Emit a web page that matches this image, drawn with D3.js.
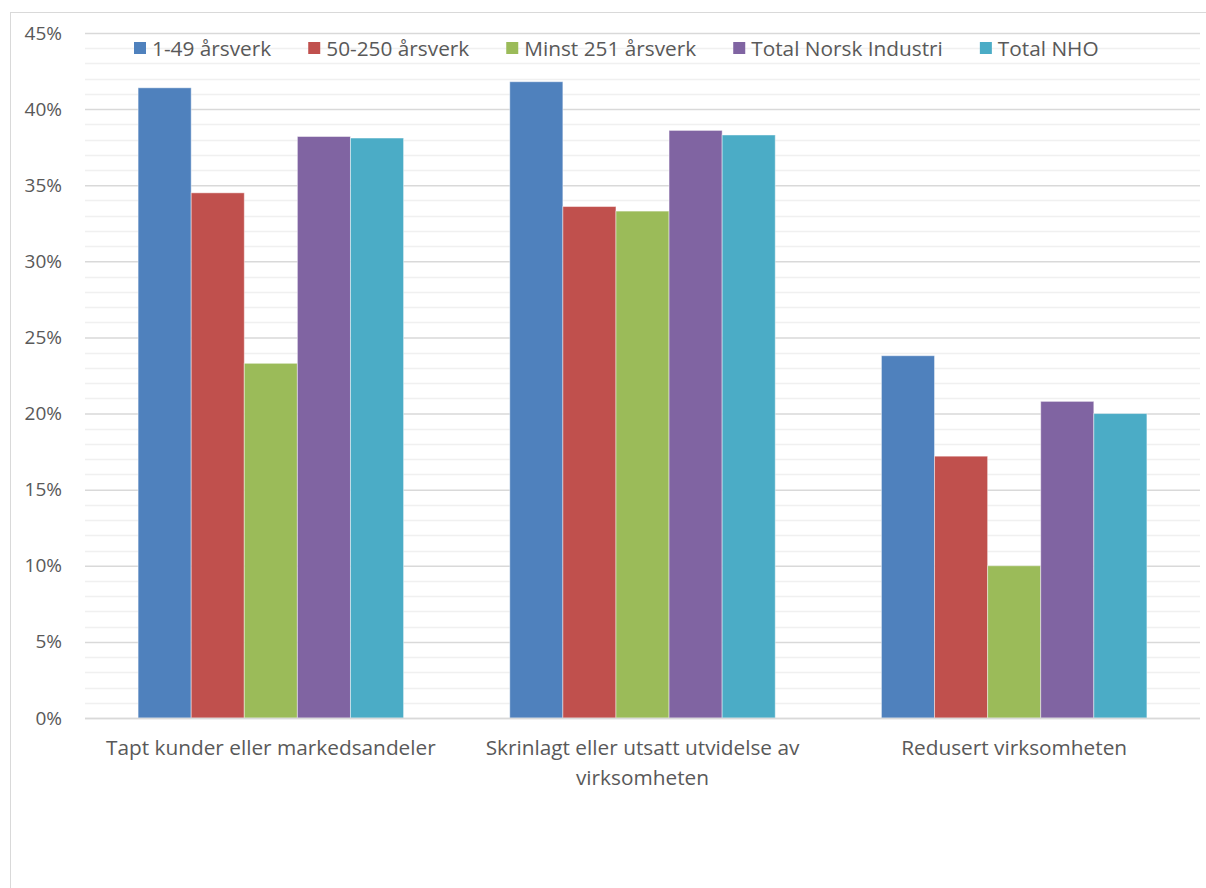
<!DOCTYPE html>
<html>
<head>
<meta charset="utf-8">
<script src="https://cdn.jsdelivr.net/npm/d3@7"></script>
<style>
  body { margin: 0; background: #fff; }
  svg { display: block; }
  svg text { font-family: 'Open Sans', 'Liberation Sans', sans-serif; }
</style>
</head>
<body>
<div id="chart"></div>
<script>
// categories and series
const categories = [
  'Tapt kunder eller markedsandeler',
  'Skrinlagt eller utsatt utvidelse av virksomheten',
  'Redusert virksomheten'
];
const seriesNames = ['1-49 årsverk', '50-250 årsverk', 'Minst 251 årsverk', 'Total Norsk Industri', 'Total NHO'];
const seriesColors = ['#4F81BD', '#C0504D', '#9BBB59', '#8064A2', '#4BACC6'];

// values in percent, one array per series (order follows categories)
const small = [41.4, 41.8, 23.8];
const medium = [34.5, 33.6, 17.2];
const large = [23.3, 33.3, 10.0];
const totalNI = [38.2, 38.6, 20.8];
const totalNHO = [38.1, 38.3, 20.0];
const seriesValues = [small, medium, large, totalNI, totalNHO];

const yTicks = [0, 5, 10, 15, 20, 25, 30, 35, 40, 45];

const width = 1206, height = 888;
const margin = { top: 33, right: 6, bottom: 170, left: 85 };
const tickFont = '19px';
const labelFont = '20.8px';

const svg = d3.select('#chart').append('svg')
  .attr('width', width)
  .attr('height', height);

// outer chart border
svg.append('rect')
  .attr('x', 10.5).attr('y', 12.5)
  .attr('width', width + 10).attr('height', height + 10)
  .attr('fill', 'none')
  .attr('stroke', '#d9d9d9');

const x0 = d3.scaleBand()
  .domain(categories)
  .range([margin.left, width - margin.right])
  .padding(0);

const x1 = d3.scaleBand()
  .domain(seriesNames)
  .range([0, x0.bandwidth()])
  .paddingInner(0)
  .paddingOuter(1);

const y = d3.scaleLinear()
  .domain([0, 45])
  .range([height - margin.bottom, margin.top]);

// minor gridlines every 1%
const minor = d3.range(0, 46).filter(v => v % 5 !== 0);
svg.append('g').selectAll('line')
  .data(minor)
  .join('line')
  .attr('x1', margin.left).attr('x2', width - margin.right)
  .attr('y1', d => Math.round(y(d)) + 0.5).attr('y2', d => Math.round(y(d)) + 0.5)
  .attr('stroke', '#f0f0f0')
  .attr('stroke-width', 1.5);

// y axis with major gridlines
const yAxis = d3.axisLeft(y)
  .tickValues(yTicks)
  .tickFormat(d => d + '%')
  .tickSize(-(width - margin.left - margin.right))
  .tickPadding(23);

svg.append('g')
  .attr('transform', `translate(${margin.left},0)`)
  .call(yAxis)
  .call(g => g.select('.domain').remove())
  .call(g => g.selectAll('.tick line').attr('stroke', '#d9d9d9').attr('stroke-width', 1.5))
  .call(g => g.selectAll('.tick text')
    .attr('fill', '#595959')
    .style('font-family', "'Open Sans', sans-serif")
    .style('font-size', tickFont));

// bars
const groups = svg.append('g').selectAll('g')
  .data(categories)
  .join('g')
  .attr('transform', d => `translate(${x0(d)},0)`);

groups.selectAll('rect')
  .data((c, ci) => seriesNames.map((s, si) => ({ s: s, v: seriesValues[si][ci], color: seriesColors[si] })))
  .join('rect')
  .attr('x', d => x1(d.s))
  .attr('y', d => y(d.v))
  .attr('width', x1.bandwidth())
  .attr('height', d => y(0) - y(d.v))
  .attr('fill', d => d.color)
  .attr('stroke', '#fff')
  .attr('stroke-opacity', 0.45)
  .attr('stroke-width', 1);

// baseline
svg.append('line')
  .attr('x1', margin.left).attr('x2', width - margin.right)
  .attr('y1', y(0) + 0.5).attr('y2', y(0) + 0.5)
  .attr('stroke', '#d9d9d9')
  .attr('stroke-width', 1.5);

// category labels, wrapped to band width
const xAxis = d3.axisBottom(x0).tickSize(0).tickPadding(0);
const xg = svg.append('g')
  .attr('transform', `translate(0,${y(0)})`)
  .call(xAxis)
  .call(g => g.select('.domain').remove());

xg.selectAll('.tick text')
  .attr('fill', '#595959')
  .attr('y', 0)
  .attr('dy', 0)
  .style('font-family', "'Open Sans', sans-serif")
  .style('font-size', labelFont)
  .each(function(d) {
    const t = d3.select(this);
    const words = d.split(' ');
    t.text(null);
    let line = [];
    let lineNo = 0;
    let tspan = t.append('tspan').attr('x', 0).attr('y', 37);
    words.forEach(w => {
      line.push(w);
      tspan.text(line.join(' '));
      if (tspan.node().getComputedTextLength() > x0.bandwidth() - 10 && line.length > 1) {
        line.pop();
        tspan.text(line.join(' '));
        line = [w];
        lineNo++;
        tspan = t.append('tspan').attr('x', 0).attr('y', 37 + lineNo * 30).text(w);
      }
    });
  });

// legend
const legend = svg.append('g').attr('transform', 'translate(134,48)');
let lx = 0;
seriesNames.forEach((name, i) => {
  const item = legend.append('g').attr('transform', `translate(${lx},0)`);
  item.append('rect')
    .attr('x', 0).attr('y', -6)
    .attr('width', 12).attr('height', 12)
    .attr('fill', seriesColors[i]);
  const txt = item.append('text')
    .attr('x', 18).attr('y', 0)
    .attr('dy', '0.36em')
    .attr('fill', '#595959')
    .style('font-size', labelFont)
    .text(name);
  lx += 18 + txt.node().getComputedTextLength() + 37;
});
</script>
</body>
</html>
